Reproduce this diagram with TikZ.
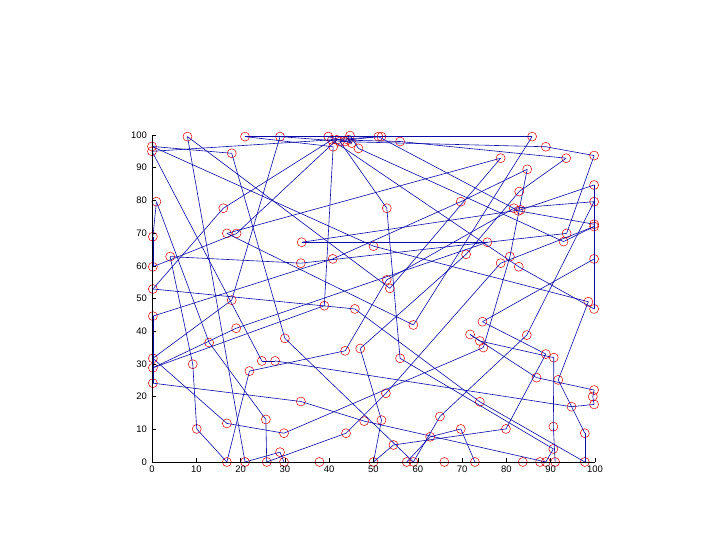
\documentclass[tikz,border=0pt]{standalone}
\usepackage{fontspec}
\setmainfont{Liberation Sans}
\definecolor{route}{RGB}{10,10,170}
\definecolor{city}{RGB}{220,0,0}

\begin{document}
\begin{tikzpicture}[x=4.43bp,y=3.27bp,font=\fontsize{9.5}{11}\selectfont]
\def\ticklen{4bp}
\tikzset{
  town/.style={circle,draw=city,line width=0.5bp,minimum size=9bp,inner sep=0pt},
  leg/.style={route,line width=0.6bp}
}
\useasboundingbox (-34.31,-23.85) rectangle (128.22,141.28);

% cities
\foreach \i/\px/\py in {
  1/8/99.5, 2/21/99.5, 3/28.9/99.5, 4/39.8/99.5, 5/44.7/99.8, 6/51.1/99.5,
  7/51.8/99.5, 8/85.8/99.5, 9/0/96.5, 10/0/95, 11/18/94.4, 12/40.6/98.5,
  13/41.7/98.5, 14/42.4/98, 15/43.6/98, 16/44.3/98.5, 17/45.1/97.5, 18/46.6/95.9,
  19/40.9/96.4, 20/56/98, 21/88.9/96.4, 22/99.8/93.7, 23/93.5/92.9, 24/78.7/92.9,
  25/84.7/89.5, 26/99.8/84.7, 27/82.9/82.7, 28/99.8/79.6, 29/69.7/79.6, 30/1/79.6,
  31/16.1/77.6, 32/53/77.6, 33/81.7/77.6, 34/82.7/76.8, 35/83.2/77.1, 36/99.8/72.7,
  37/99.8/72, 38/93.6/69.9, 39/0.2/68.9, 40/16.9/69.9, 41/19.1/69.9, 42/92.9/67.4,
  43/33.8/67.2, 44/50/66, 45/75.7/67.2, 46/4.1/62.8, 47/0.2/59.7, 48/33.6/60.8,
  49/40.8/62.1, 50/70.9/63.5, 51/80.8/62.8, 52/78.7/60.8, 53/82.8/59.7, 54/99.8/62.1,
  55/53/55.7, 56/53.7/53.1, 57/0.2/52.9, 58/18/49.5, 59/38.9/47.8, 60/45.8/46.8,
  61/98.5/49, 62/99.8/46.8, 63/0.2/44.6, 64/19/40.9, 65/59/41.9, 66/74.6/42.9,
  67/84.6/38.8, 68/71.8/39, 69/74/37, 70/74.8/35, 71/12.9/36.5, 72/30/37.8,
  73/43.6/34, 74/47/34.7, 75/56/31.7, 76/88.9/33, 77/90.7/31.9, 78/0.2/31.7,
  79/0.2/28.8, 80/9.2/29.9, 81/24.8/30.9, 82/27.8/30.9, 83/22/27.8, 84/86.8/25.8,
  85/91.7/25.1, 86/0.2/24.1, 87/99.8/22, 88/99.5/20, 89/99.8/17.6, 90/52.8/21,
  91/33.6/18.5, 92/74/18.4, 93/94.7/16.9, 94/16.9/11.8, 95/10.1/10.1, 96/25.7/13,
  97/47.9/12.5, 98/51.8/12.8, 99/65/13.9, 100/69.7/10.1, 101/79.9/10.1, 102/90.6/10.8,
  103/97.7/8.8, 104/29.8/8.8, 105/43.8/8.8, 106/62.8/7.7, 107/54.5/5.2, 108/28.9/3,
  109/90.6/4, 110/16.9/0, 111/21/0, 112/25.9/0, 113/29.8/0, 114/37.8/0,
  115/50/0, 116/57.5/0, 117/59/0, 118/66/0, 119/72.9/0, 120/83.7/0,
  121/87.6/0, 122/88.9/0, 123/91/0, 124/97.7/0} {
  \node[town] (c\i) at (\px,\py) {};
}

% tour
\foreach \b [remember=\b as \a (initially 1)] in {
  56, 24, 40, 65, 8, 2, 19, 59, 79, 64, 45, 43, 35, 26, 62, 53, 12, 31, 57,
  60, 92, 124, 103, 85, 61, 44, 9, 11, 72, 117, 99, 67, 28, 33, 55, 73, 83, 110, 95,
  80, 46, 48, 38, 22, 21, 14, 32, 75, 109, 122, 97, 91, 86, 63, 49, 29, 25, 51, 70,
  104, 94, 78, 58, 3, 15, 5, 18, 42, 37, 52, 90, 105, 112, 96, 71, 30, 39, 47, 41,
  13, 20, 23, 27, 50, 74, 98, 115, 107, 101, 76, 66, 54, 36, 34, 6, 16, 17, 4, 7,
  10, 81, 82, 93, 89, 88, 87, 84, 68, 69, 77, 102, 123, 121, 120, 119, 100, 106, 116, 118,
  114, 113, 108, 111, 1} {
  \draw[leg] (c\a.center) -- (c\b.center);
}

% axes
\coordinate (top) at (0,100);
\coordinate (org) at (0,0);
\coordinate (end) at (100,0);
\draw[line width=0.5bp] (top) -- (org) -- (end);
\foreach \t in {0,10,...,100} {
  \draw[line width=0.5bp] (\t,0) -- ++(0,\ticklen);
  \draw[line width=0.5bp] (0,\t) -- ++(\ticklen,0);
  \node[anchor=north,inner sep=0pt] (xl\t) at ([yshift=-4bp]\t,0) {\t};
  \node[anchor=east,inner sep=0pt] (yl\t) at ([xshift=-5bp]0,\t) {\t};
}
\end{tikzpicture}
\end{document}
